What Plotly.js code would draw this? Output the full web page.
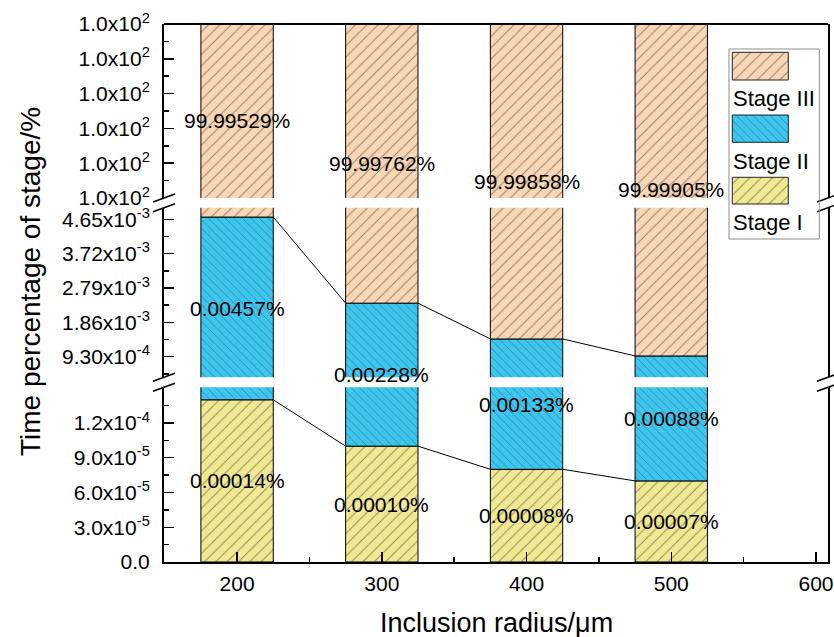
<!DOCTYPE html>
<html>
<head>
<meta charset="utf-8">
<script src="https://cdn.plot.ly/plotly-3.0.1.min.js"></script>
<style>html,body{margin:0;padding:0;background:#fff;}#chart{width:834px;height:637px;}</style>
</head>
<body>
<div id="chart"></div>
<script>
// ---------- data ----------
const radius = [200, 300, 400, 500];
const stageI = [0.00014, 0.00010, 0.00008, 0.00007];
const stageII = [0.00457, 0.00228, 0.00133, 0.00088];
const stageIII = [99.99529, 99.99762, 99.99858, 99.99905];
const stageNames = ['Stage I', 'Stage II', 'Stage III'];

const xTickVals = [200, 300, 400, 500, 600];
const yTickValsLow = [0, 3e-5, 6e-5, 9e-5, 1.2e-4];
const yTickTextLow = ['0.0', '3.0x10<sup>-5</sup>', '6.0x10<sup>-5</sup>', '9.0x10<sup>-5</sup>', '1.2x10<sup>-4</sup>'];
const yTickValsMid = [9.3e-4, 1.86e-3, 2.79e-3, 3.72e-3, 4.65e-3];
const yTickTextMid = ['9.30x10<sup>-4</sup>', '1.86x10<sup>-3</sup>', '2.79x10<sup>-3</sup>', '3.72x10<sup>-3</sup>', '4.65x10<sup>-3</sup>'];
const yTickValsTop = [99.995, 99.996, 99.997, 99.998, 99.999, 100.0];
const yTickTextTop = ['1.0x10<sup>2</sup>', '1.0x10<sup>2</sup>', '1.0x10<sup>2</sup>', '1.0x10<sup>2</sup>', '1.0x10<sup>2</sup>', '1.0x10<sup>2</sup>'];

// ---------- geometry / style ----------
const W = 834, H = 637;
const M = {l: 164, r: 6, t: 24, b: 75};
const PW = W - M.l - M.r, PH = H - M.t - M.b;
const px2x = px => (px - M.l) / PW;
const px2y = py => (H - M.b - py) / PH;

const FONT = 'Liberation Sans, Arial, sans-serif';
const BAR_W = 50;
const colors = ['#F0E992', '#3DC6EF', '#F9D6B4'];
const shapesP = ['/', '\\', '/'];
const sizesP = [8, 6, 8];

const axes = [
  {name: 'y',  domain: [0, px2y(387.3)], range: [0, 1.508e-4]},
  {name: 'y2', domain: [px2y(377.3), px2y(207.7)], range: [3.72e-4, 4.964e-3]},
  {name: 'y3', domain: [px2y(198), 1], range: [99.995, 100.0]}
];
function toPaper(ax, v) {
  const a = axes[ax];
  return a.domain[0] + (v - a.range[0]) / (a.range[1] - a.range[0]) * (a.domain[1] - a.domain[0]);
}

const lowTop = stageI;
const midTop = stageI.map((v, i) => v + stageII[i]);
const total = midTop.map((v, i) => v + stageIII[i]);
const bases = [stageI.map(() => 0), stageI, midTop];
const vals = [stageI, stageII, stageIII];

function pattern(k) {
  return {shape: shapesP[k], fillmode: 'overlay', fgcolor: '#2a2a2a', size: sizesP[k], solidity: 0.12};
}

const traces = [];
axes.forEach(ax => {
  for (let k = 0; k < 3; k++) {
    traces.push({
      type: 'bar', x: radius, y: vals[k], base: bases[k], width: BAR_W,
      xaxis: 'x', yaxis: ax.name, name: stageNames[k], showlegend: false,
      marker: {color: colors[k], line: {color: '#000', width: 1}, pattern: pattern(k)},
      hoverinfo: 'skip'
    });
  }
});

// connector lines
function connector(tops, yax) {
  const xs = [], ys = [];
  for (let i = 0; i < radius.length - 1; i++) {
    xs.push(radius[i] + BAR_W / 2, radius[i + 1] - BAR_W / 2, null);
    ys.push(tops[i], tops[i + 1], null);
  }
  return {type: 'scatter', mode: 'lines', x: xs, y: ys, xaxis: 'x', yaxis: yax,
          line: {color: '#000', width: 1}, showlegend: false, hoverinfo: 'skip', connectgaps: false};
}
traces.push(connector(midTop, 'y2'));
traces.push(connector(lowTop, 'y'));

// legend swatches (own small subplot, units = pixels)
const legRows = [
  {k: 2, top: 52.3, bot: 80, text: 99},
  {k: 1, top: 115, bot: 142.3, text: 161},
  {k: 0, top: 177.3, bot: 204, text: 222.7}
];
legRows.forEach(r => {
  traces.push({
    type: 'bar', x: [28], width: [56], base: [204 - r.bot], y: [r.bot - r.top],
    xaxis: 'x4', yaxis: 'y4', showlegend: false, hoverinfo: 'skip',
    marker: {color: colors[r.k], line: {color: '#222', width: 1}, pattern: pattern(r.k)}
  });
});

// annotations
const ann = [];
const labFont = {family: FONT, size: 21, color: '#000'};
const fmt = v => v.toFixed(5) + '%';
radius.forEach((r, i) => {
  ann.push({x: r, xref: 'x', yref: 'paper', y: toPaper(0, stageI[i] / 2), text: fmt(stageI[i]),
            showarrow: false, font: labFont, xanchor: 'center', yanchor: 'middle'});
  ann.push({x: r, xref: 'x', yref: 'paper', y: (toPaper(0, lowTop[i]) + toPaper(1, midTop[i])) / 2,
            text: fmt(stageII[i]), showarrow: false, font: labFont, xanchor: 'center', yanchor: 'middle'});
  ann.push({x: r, xref: 'x', yref: 'paper', y: (toPaper(1, midTop[i]) + toPaper(2, total[i])) / 2,
            text: fmt(stageIII[i]), showarrow: false, font: labFont, xanchor: 'center', yanchor: 'middle'});
});
legRows.forEach(r => {
  ann.push({x: px2x(731), xref: 'paper', y: px2y(r.text), yref: 'paper', text: stageNames[r.k],
            showarrow: false, font: {family: FONT, size: 22, color: '#000'}, xanchor: 'left', yanchor: 'middle'});
});
ann.push({x: 0.5, xref: 'paper', y: px2y(623), yref: 'paper', text: 'Inclusion radius/μm',
          showarrow: false, font: {family: FONT, size: 27, color: '#000'}, xanchor: 'center', yanchor: 'middle'});
ann.push({x: px2x(30), xref: 'paper', y: px2y(282), yref: 'paper', text: 'Time percentage of stage/%',
          textangle: -90, showarrow: false, font: {family: FONT, size: 28, color: '#000'}, xanchor: 'center', yanchor: 'middle'});

// shapes: top frame, break marks, legend border
const shapes = [];
shapes.push({type: 'line', xref: 'paper', yref: 'paper', x0: 0, x1: 1, y0: 1, y1: 1, line: {color: '#000', width: 2}});
[axes[2].domain[0], axes[1].domain[1], axes[1].domain[0], axes[0].domain[1]].forEach(yb => {
  [0, 1].forEach(xb => {
    shapes.push({type: 'line', xref: 'paper', yref: 'paper', xsizemode: 'pixel', xanchor: xb, x0: -11, x1: 11,
                 ysizemode: 'pixel', yanchor: yb, y0: -4, y1: 4, line: {color: '#000', width: 1.5}});
  });
});
shapes.push({type: 'rect', xref: 'paper', yref: 'paper', x0: px2x(729), x1: px2x(819.3), y0: px2y(239), y1: px2y(49),
             line: {color: '#8c8c8c', width: 1}, fillcolor: 'rgba(0,0,0,0)'});

function yAxis(ax, vals, texts, minorDtick, minorTick0) {
  return {
    domain: ax.domain, range: ax.range, anchor: 'x', tickmode: 'array', tickvals: vals, ticktext: texts,
    ticks: 'inside', ticklen: 10, tickwidth: 1.5, tickcolor: '#000',
    minor: {tick0: minorTick0, dtick: minorDtick, ticks: 'inside', ticklen: 5, tickwidth: 1.5, tickcolor: '#000', showgrid: false},
    showline: true, linewidth: 2, linecolor: '#000', mirror: true, showgrid: false, zeroline: false,
    tickfont: {family: FONT, size: 21, color: '#000'}, ticklabelstandoff: 8, fixedrange: true
  };
}

const layout = {
  width: W, height: H, margin: {l: M.l, r: M.r, t: M.t, b: M.b, pad: 0},
  paper_bgcolor: '#fff', plot_bgcolor: 'rgba(0,0,0,0)', showlegend: false, barmode: 'overlay',
  font: {family: FONT, color: '#000'},
  xaxis: {
    domain: [0, 1], range: [149.5, 608.3], anchor: 'y', tickmode: 'array', tickvals: xTickVals,
    ticks: 'inside', ticklen: 10, tickwidth: 1.5, tickcolor: '#000',
    minor: {tick0: 0, dtick: 50, ticks: 'inside', ticklen: 5, tickwidth: 1.5, tickcolor: '#000', showgrid: false},
    showline: true, linewidth: 2, linecolor: '#000', showgrid: false, zeroline: false,
    tickfont: {family: FONT, size: 21, color: '#000'}, ticklabelstandoff: 2
  },
  yaxis: yAxis(axes[0], yTickValsLow, yTickTextLow, 1.5e-5, 0),
  yaxis2: yAxis(axes[1], yTickValsMid, yTickTextMid, 4.65e-4, 0),
  yaxis3: yAxis(axes[2], yTickValsTop, yTickTextTop, 0.0005, 99.995),
  xaxis4: {domain: [px2x(730.3), px2x(790.3)], range: [-2, 58], anchor: 'y4', visible: false, fixedrange: true},
  yaxis4: {domain: [px2y(206), px2y(50.3)], range: [-2, 153.7], anchor: 'x4', visible: false, fixedrange: true},
  annotations: ann, shapes: shapes
};

Plotly.newPlot('chart', traces, layout, {displayModeBar: false, staticPlot: true});
</script>
</body>
</html>
